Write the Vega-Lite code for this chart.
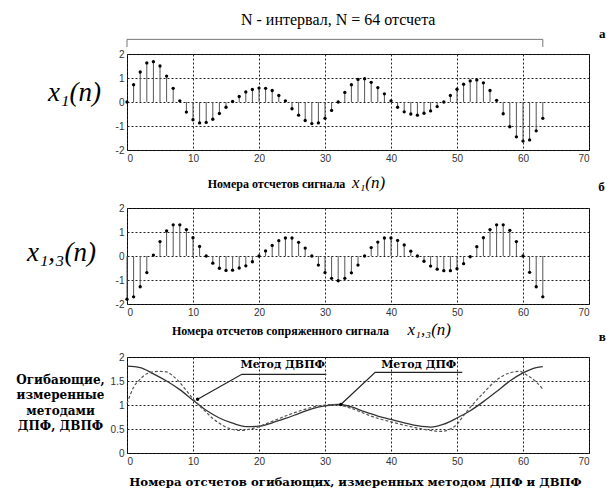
{
  "$schema": "https://vega.github.io/schema/vega-lite/v6.json",
  "background": "white",
  "padding": {"left": 15, "top": 11, "right": 2, "bottom": 2},
  "config": {
    "font": "Liberation Serif, serif",
    "view": {"stroke": "#000", "strokeWidth": 1},
    "axis": {
      "grid": true,
      "gridDash": [2, 2],
      "gridColor": "#222",
      "gridOpacity": 1,
      "gridWidth": 1,
      "domain": false,
      "ticks": false,
      "labelOverlap": false,
      "labelBound": false,
      "labelFont": "Liberation Sans, sans-serif",
      "labelFontSize": 10,
      "labelColor": "#333",
      "labelPadding": 3,
      "titleFont": "Liberation Serif, serif",
      "titleFontWeight": "bold",
      "titleFontSize": 12,
      "titleColor": "#000"
    }
  },
  "datasets": {
    "x1": [
      {"n": 0, "v": 0}, {"n": 1, "v": 0.72}, {"n": 2, "v": 1.25}, {"n": 3, "v": 1.63},
      {"n": 4, "v": 1.68}, {"n": 5, "v": 1.5}, {"n": 6, "v": 1.08}, {"n": 7, "v": 0.57},
      {"n": 8, "v": 0.05}, {"n": 9, "v": -0.42}, {"n": 10, "v": -0.74}, {"n": 11, "v": -0.87},
      {"n": 12, "v": -0.85}, {"n": 13, "v": -0.72}, {"n": 14, "v": -0.48}, {"n": 15, "v": -0.22},
      {"n": 16, "v": 0.02}, {"n": 17, "v": 0.23}, {"n": 18, "v": 0.42}, {"n": 19, "v": 0.52},
      {"n": 20, "v": 0.58}, {"n": 21, "v": 0.57}, {"n": 22, "v": 0.48}, {"n": 23, "v": 0.27},
      {"n": 24, "v": 0.05}, {"n": 25, "v": -0.28}, {"n": 26, "v": -0.55}, {"n": 27, "v": -0.77},
      {"n": 28, "v": -0.9}, {"n": 29, "v": -0.87}, {"n": 30, "v": -0.68}, {"n": 31, "v": -0.35},
      {"n": 32, "v": 0.0}, {"n": 33, "v": 0.4}, {"n": 34, "v": 0.72}, {"n": 35, "v": 0.94},
      {"n": 36, "v": 0.97}, {"n": 37, "v": 0.82}, {"n": 38, "v": 0.6}, {"n": 39, "v": 0.34},
      {"n": 40, "v": 0.05}, {"n": 41, "v": -0.22}, {"n": 42, "v": -0.41}, {"n": 43, "v": -0.5},
      {"n": 44, "v": -0.55}, {"n": 45, "v": -0.47}, {"n": 46, "v": -0.37}, {"n": 47, "v": -0.19},
      {"n": 48, "v": 0.0}, {"n": 49, "v": 0.27}, {"n": 50, "v": 0.53}, {"n": 51, "v": 0.74},
      {"n": 52, "v": 0.88}, {"n": 53, "v": 0.92}, {"n": 54, "v": 0.8}, {"n": 55, "v": 0.48},
      {"n": 56, "v": 0.07}, {"n": 57, "v": -0.49}, {"n": 58, "v": -1.03}, {"n": 59, "v": -1.45},
      {"n": 60, "v": -1.63}, {"n": 61, "v": -1.58}, {"n": 62, "v": -1.2}, {"n": 63, "v": -0.68}
    ],
    "x13": [
      {"n": 0, "v": -1.8}, {"n": 1, "v": -1.7}, {"n": 2, "v": -1.28}, {"n": 3, "v": -0.69},
      {"n": 4, "v": 0.04}, {"n": 5, "v": 0.6}, {"n": 6, "v": 1.05}, {"n": 7, "v": 1.3},
      {"n": 8, "v": 1.3}, {"n": 9, "v": 1.1}, {"n": 10, "v": 0.76}, {"n": 11, "v": 0.4},
      {"n": 12, "v": 0.0}, {"n": 13, "v": -0.3}, {"n": 14, "v": -0.51}, {"n": 15, "v": -0.6},
      {"n": 16, "v": -0.59}, {"n": 17, "v": -0.5}, {"n": 18, "v": -0.41}, {"n": 19, "v": -0.24},
      {"n": 20, "v": 0.0}, {"n": 21, "v": 0.21}, {"n": 22, "v": 0.44}, {"n": 23, "v": 0.64},
      {"n": 24, "v": 0.75}, {"n": 25, "v": 0.75}, {"n": 26, "v": 0.57}, {"n": 27, "v": 0.33},
      {"n": 28, "v": 0.0}, {"n": 29, "v": -0.38}, {"n": 30, "v": -0.69}, {"n": 31, "v": -0.93},
      {"n": 32, "v": -1.03}, {"n": 33, "v": -0.93}, {"n": 34, "v": -0.7}, {"n": 35, "v": -0.38},
      {"n": 36, "v": 0.0}, {"n": 37, "v": 0.35}, {"n": 38, "v": 0.58}, {"n": 39, "v": 0.75},
      {"n": 40, "v": 0.75}, {"n": 41, "v": 0.65}, {"n": 42, "v": 0.46}, {"n": 43, "v": 0.2},
      {"n": 44, "v": 0.0}, {"n": 45, "v": -0.22}, {"n": 46, "v": -0.42}, {"n": 47, "v": -0.55},
      {"n": 48, "v": -0.61}, {"n": 49, "v": -0.61}, {"n": 50, "v": -0.53}, {"n": 51, "v": -0.32},
      {"n": 52, "v": -0.03}, {"n": 53, "v": 0.39}, {"n": 54, "v": 0.76}, {"n": 55, "v": 1.1},
      {"n": 56, "v": 1.3}, {"n": 57, "v": 1.3}, {"n": 58, "v": 1.07}, {"n": 59, "v": 0.6},
      {"n": 60, "v": 0.0}, {"n": 61, "v": -0.68}, {"n": 62, "v": -1.28}, {"n": 63, "v": -1.7}
    ],
    "env_dft": [
      {"n": 0, "v": 1.81}, {"n": 2, "v": 1.78}, {"n": 4, "v": 1.65}, {"n": 6, "v": 1.5},
      {"n": 8, "v": 1.32}, {"n": 10, "v": 1.1}, {"n": 12, "v": 0.89}, {"n": 14, "v": 0.73},
      {"n": 16, "v": 0.62}, {"n": 18, "v": 0.55}, {"n": 20, "v": 0.56}, {"n": 22, "v": 0.63},
      {"n": 24, "v": 0.72}, {"n": 26, "v": 0.82}, {"n": 28, "v": 0.92}, {"n": 30, "v": 0.98},
      {"n": 32, "v": 1.01}, {"n": 34, "v": 0.96}, {"n": 36, "v": 0.86}, {"n": 38, "v": 0.77},
      {"n": 40, "v": 0.7}, {"n": 42, "v": 0.63}, {"n": 44, "v": 0.57}, {"n": 46, "v": 0.54},
      {"n": 48, "v": 0.6}, {"n": 50, "v": 0.73}, {"n": 52, "v": 0.88}, {"n": 54, "v": 1.07},
      {"n": 56, "v": 1.28}, {"n": 58, "v": 1.5}, {"n": 60, "v": 1.67}, {"n": 62, "v": 1.78},
      {"n": 63, "v": 1.8}
    ],
    "env_dtft": [
      {"n": 0, "v": 1.03}, {"n": 1, "v": 1.37}, {"n": 2, "v": 1.54}, {"n": 3, "v": 1.65},
      {"n": 4, "v": 1.69}, {"n": 5, "v": 1.7}, {"n": 6, "v": 1.69}, {"n": 7, "v": 1.6},
      {"n": 8, "v": 1.47}, {"n": 9, "v": 1.3}, {"n": 10, "v": 1.13}, {"n": 11, "v": 0.98},
      {"n": 12, "v": 0.85}, {"n": 13, "v": 0.72}, {"n": 14, "v": 0.62}, {"n": 15, "v": 0.54},
      {"n": 16, "v": 0.49}, {"n": 17, "v": 0.47}, {"n": 18, "v": 0.48}, {"n": 19, "v": 0.51},
      {"n": 20, "v": 0.55}, {"n": 22, "v": 0.66}, {"n": 24, "v": 0.77}, {"n": 26, "v": 0.87},
      {"n": 28, "v": 0.95}, {"n": 30, "v": 1.0}, {"n": 31, "v": 1.01}, {"n": 32, "v": 1.0},
      {"n": 34, "v": 0.93}, {"n": 36, "v": 0.82}, {"n": 38, "v": 0.72}, {"n": 40, "v": 0.65},
      {"n": 42, "v": 0.58}, {"n": 44, "v": 0.52}, {"n": 46, "v": 0.47}, {"n": 47.5, "v": 0.45},
      {"n": 49, "v": 0.5}, {"n": 50, "v": 0.6}, {"n": 51, "v": 0.78}, {"n": 52, "v": 0.95},
      {"n": 54, "v": 1.25}, {"n": 56, "v": 1.52}, {"n": 58, "v": 1.67}, {"n": 59.5, "v": 1.7},
      {"n": 60.5, "v": 1.63}, {"n": 62, "v": 1.48}, {"n": 63, "v": 1.33}
    ],
    "bracket": [
      {"k": 0, "n": 0, "v": 2.29}, {"k": 1, "n": 0, "v": 2.61},
      {"k": 2, "n": 63, "v": 2.61}, {"k": 3, "n": 63, "v": 2.29}
    ],
    "leaders": [
      {"g": "dtft", "k": 0, "n": 10.7, "v": 1.12}, {"g": "dtft", "k": 1, "n": 17.4, "v": 1.64}, {"g": "dtft", "k": 2, "n": 30.2, "v": 1.64},
      {"g": "dft", "k": 0, "n": 32.4, "v": 1.01}, {"g": "dft", "k": 1, "n": 37.6, "v": 1.68}, {"g": "dft", "k": 2, "n": 50.8, "v": 1.68}
    ],
    "blank": [{"t": ""}]
  },
  "bounds": "flush",
  "spacing": 0,
  "vconcat": [
    {
      "width": 462,
      "height": 96,
      "encoding": {
        "x": {
          "field": "n", "type": "quantitative",
          "scale": {"domain": [0, 70], "nice": false, "zero": false},
          "axis": {"values": [0, 10, 20, 30, 40, 50, 60, 70], "title": "Номера отсчетов сигнала",
                   "titleX": 149, "titleY": 33, "titleAlign": "center", "titleBaseline": "middle"}
        },
        "y": {
          "field": "v", "type": "quantitative",
          "scale": {"domain": [-2, 2], "nice": false, "zero": false},
          "axis": {"values": [-2, -1, 0, 1, 2], "labelExpr": "'' + datum.value", "title": "x₁(n)",
                   "titleAngle": 0, "titleX": -53, "titleY": 38, "titleAlign": "center", "titleBaseline": "middle",
                   "titleFontStyle": "italic", "titleFontWeight": "normal", "titleFontSize": 27}
        }
      },
      "layer": [
        {
          "data": {"name": "x1"},
          "mark": {"type": "rule", "color": "#555", "strokeWidth": 1},
          "encoding": {"y2": {"datum": 0}}
        },
        {
          "data": {"name": "blank"},
          "mark": {"type": "rule", "color": "#000", "strokeWidth": 1.2},
          "encoding": {"x": {"datum": 0}, "x2": {"datum": 70}, "y": {"datum": 0}}
        },
        {
          "data": {"name": "x1"},
          "mark": {"type": "point", "filled": true, "color": "#000", "size": 11, "opacity": 1}
        },
        {
          "data": {"name": "bracket"},
          "mark": {"type": "line", "color": "#777", "strokeWidth": 1},
          "encoding": {"order": {"field": "k"}}
        },
        {
          "data": {"values": [{"n": 32.0, "v": 3.4, "t": "N - интервал, N = 64 отсчета"}]},
          "mark": {"type": "text", "font": "Liberation Serif, serif", "fontSize": 16, "align": "center", "baseline": "middle", "color": "#000"},
          "encoding": {"text": {"field": "t"}}
        },
        {
          "data": {"values": [{"n": 72.0, "v": 2.83, "t": "а"}]},
          "mark": {"type": "text", "font": "Liberation Serif, serif", "fontSize": 13, "fontWeight": "bold", "align": "center", "baseline": "middle", "color": "#000"},
          "encoding": {"text": {"field": "t"}}
        },
        {
          "data": {"values": [{"n": 36.6, "v": -3.38, "t": "x₁(n)"}]},
          "mark": {"type": "text", "font": "Liberation Serif, serif", "fontSize": 17, "fontStyle": "italic", "align": "center", "baseline": "middle", "color": "#000"},
          "encoding": {"text": {"field": "t"}}
        }
      ]
    },
    {
      "width": 462,
      "height": 58,
      "view": {"stroke": null},
      "data": {"name": "blank"},
      "mark": {"type": "text"},
      "encoding": {"text": {"field": "t"}}
    },
    {
      "width": 462,
      "height": 96,
      "encoding": {
        "x": {
          "field": "n", "type": "quantitative",
          "scale": {"domain": [0, 70], "nice": false, "zero": false},
          "axis": {"values": [0, 10, 20, 30, 40, 50, 60, 70], "title": "Номера отсчетов сопряженного сигнала",
                   "titleX": 153, "titleY": 26, "titleAlign": "center", "titleBaseline": "middle"}
        },
        "y": {
          "field": "v", "type": "quantitative",
          "scale": {"domain": [-2, 2], "nice": false, "zero": false},
          "axis": {"values": [-2, -1, 0, 1, 2], "labelExpr": "'' + datum.value", "title": "x₁,₃(n)",
                   "titleAngle": 0, "titleX": -66, "titleY": 44, "titleAlign": "center", "titleBaseline": "middle",
                   "titleFontStyle": "italic", "titleFontWeight": "normal", "titleFontSize": 27}
        }
      },
      "layer": [
        {
          "data": {"name": "x13"},
          "mark": {"type": "rule", "color": "#555", "strokeWidth": 1},
          "encoding": {"y2": {"datum": 0}}
        },
        {
          "data": {"name": "blank"},
          "mark": {"type": "rule", "color": "#000", "strokeWidth": 1.2},
          "encoding": {"x": {"datum": 0}, "x2": {"datum": 70}, "y": {"datum": 0}}
        },
        {
          "data": {"name": "x13"},
          "mark": {"type": "point", "filled": true, "color": "#000", "size": 11, "opacity": 1}
        },
        {
          "data": {"values": [{"n": 71.9, "v": 2.88, "t": "б"}]},
          "mark": {"type": "text", "font": "Liberation Serif, serif", "fontSize": 13, "fontWeight": "bold", "align": "center", "baseline": "middle", "color": "#000"},
          "encoding": {"text": {"field": "t"}}
        },
        {
          "data": {"values": [{"n": 45.8, "v": -3.08, "t": "x₁,₃(n)"}]},
          "mark": {"type": "text", "font": "Liberation Serif, serif", "fontSize": 17, "fontStyle": "italic", "align": "center", "baseline": "middle", "color": "#000"},
          "encoding": {"text": {"field": "t"}}
        }
      ]
    },
    {
      "width": 462,
      "height": 53,
      "view": {"stroke": null},
      "data": {"name": "blank"},
      "mark": {"type": "text"},
      "encoding": {"text": {"field": "t"}}
    },
    {
      "width": 462,
      "height": 96,
      "encoding": {
        "x": {
          "field": "n", "type": "quantitative",
          "scale": {"domain": [0, 70], "nice": false, "zero": false},
          "axis": {"values": [0, 10, 20, 30, 40, 50, 60, 70], "title": "Номера отсчетов огибающих, измеренных методом ДПФ и ДВПФ",
                   "titleFont": "DejaVu Serif", "titleFontSize": 11.7,
                   "titleX": 228, "titleY": 28, "titleAlign": "center", "titleBaseline": "middle"}
        },
        "y": {
          "field": "v", "type": "quantitative",
          "scale": {"domain": [0, 2], "nice": false, "zero": false},
          "axis": {"values": [0, 0.5, 1, 1.5, 2], "labelExpr": "'' + datum.value",
                   "title": ["Огибающие,", "измеренные", "методами", "ДПФ, ДВПФ"],
                   "titleFont": "DejaVu Serif", "titleFontSize": 12, "titleLineHeight": 15.5,
                   "titleAngle": 0, "titleX": -67, "titleY": 22, "titleAlign": "center", "titleBaseline": "middle"}
        }
      },
      "layer": [
        {
          "data": {"name": "env_dft"},
          "mark": {"type": "line", "color": "#333", "strokeWidth": 1.3, "interpolate": "monotone"}
        },
        {
          "data": {"name": "env_dtft"},
          "mark": {"type": "line", "color": "#555", "strokeWidth": 1.2, "strokeDash": [3, 2], "interpolate": "monotone"}
        },
        {
          "data": {"name": "leaders"},
          "mark": {"type": "line", "color": "#222", "strokeWidth": 1.2},
          "encoding": {"detail": {"field": "g"}, "order": {"field": "k"}}
        },
        {
          "data": {"name": "leaders"},
          "transform": [{"filter": "datum.k == 0"}],
          "mark": {"type": "point", "filled": true, "color": "#000", "size": 12, "opacity": 1}
        },
        {
          "data": {"values": [{"n": 23.6, "v": 1.83, "t": "Метод ДВПФ"}, {"n": 44.2, "v": 1.84, "t": "Метод ДПФ"}]},
          "mark": {"type": "text", "font": "DejaVu Serif", "fontSize": 11, "fontWeight": "bold", "align": "center", "baseline": "middle", "color": "#000"},
          "encoding": {"text": {"field": "t"}}
        },
        {
          "data": {"values": [{"n": 72.0, "v": 2.42, "t": "в"}]},
          "mark": {"type": "text", "font": "Liberation Serif, serif", "fontSize": 13, "fontWeight": "bold", "align": "center", "baseline": "middle", "color": "#000"},
          "encoding": {"text": {"field": "t"}}
        }
      ]
    }
  ]
}
